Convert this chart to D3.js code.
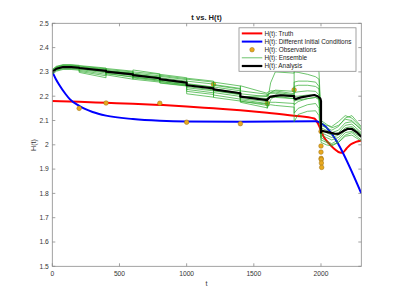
<!DOCTYPE html>
<html><head><meta charset="utf-8">
<script src="https://cdn.jsdelivr.net/npm/d3@7"></script>
<style>body{margin:0;background:#fff}svg{display:block;font-family:"Liberation Sans",Arial,sans-serif}</style>
</head><body><svg id="c" width="399" height="299"></svg>
<script>
const xTicks = [0, 500, 1000, 1500, 2000];
const yTicks = [1.5, 1.6, 1.7, 1.8, 1.9, 2.0, 2.1, 2.2, 2.3, 2.4, 2.5];

const truthT = [0, 200, 400, 600, 800, 1000, 1200, 1400, 1600, 1800, 1950, 1980, 2020, 2060, 2100, 2140, 2160, 2190, 2220, 2260, 2300];
const truthH = [2.180, 2.177, 2.173, 2.169, 2.164, 2.158, 2.150, 2.142, 2.132, 2.120, 2.108, 2.085, 2.033, 2.005, 1.983, 1.968, 1.967, 1.985, 2.001, 2.012, 2.018];

const diffT = [0, 25, 50, 100, 130, 200, 300, 400, 600, 800, 1000, 1400, 1955, 2300];
const diffH = [2.300, 2.272, 2.248, 2.208, 2.188, 2.160, 2.135, 2.120, 2.106, 2.099, 2.096, 2.095, 2.097, 1.800];

const obsT = [200, 400, 800, 1000, 1200, 1400, 1600, 1800, 2000, 2000, 2000, 2001, 2002, 2003, 2005];
const obsH = [2.150, 2.172, 2.171, 2.093, 2.249, 2.087, 2.171, 2.226, 2.055, 1.995, 1.970, 1.944, 1.940, 1.925, 1.907];

const anaT = [0, 30, 80, 140, 200, 200, 400, 400, 600, 600, 800, 800, 1000, 1000, 1200, 1200, 1400, 1400, 1600, 1600, 1620, 1650, 1700, 1800, 1800, 1810, 1850, 1950, 1975, 1995, 2000, 2000, 2005, 2050, 2100, 2130, 2170, 2200, 2230, 2270, 2300];
const anaH = [2.300, 2.313, 2.320, 2.320, 2.317, 2.316, 2.304, 2.301, 2.290, 2.287, 2.274, 2.270, 2.256, 2.245, 2.232, 2.228, 2.212, 2.198, 2.184, 2.186, 2.197, 2.200, 2.204, 2.200, 2.192, 2.188, 2.195, 2.205, 2.200, 2.190, 2.180, 2.050, 2.058, 2.052, 2.046, 2.045, 2.058, 2.066, 2.065, 2.050, 2.033];

// ensemble sample times per assimilation window
const ensWinT = [
  [0, 30, 80, 140, 200], [200, 400], [400, 600], [600, 800], [800, 1000],
  [1000, 1200], [1200, 1400], [1400, 1600], [1600, 1625, 1660, 1800],
  [1800, 1830, 1900, 1960, 1985, 2000], [2000, 2040, 2080, 2130, 2180, 2230, 2300]
];
const ens0 = [[2.290,2.303,2.310,2.310,2.307],[2.298,2.276],[2.303,2.292],[2.280,2.266],[2.290,2.276],[2.228,2.214],[2.258,2.242],[2.180,2.162],[2.150,2.185,2.205,2.198],[2.300,2.298,2.290,2.280,2.270,2.100],[2.090,2.080,2.075,2.095,2.120,2.110,2.070]];
const ens1 = [[2.293,2.306,2.313,2.313,2.310],[2.302,2.284],[2.295,2.278],[2.300,2.290],[2.262,2.247],[2.270,2.258],[2.205,2.188],[2.222,2.208],[2.200,2.215,2.217,2.205],[2.180,2.185,2.190,2.195,2.190,2.060],[2.030,2.015,2.005,2.020,2.050,2.055,2.030]];
const ens2 = [[2.296,2.309,2.316,2.316,2.313],[2.306,2.290],[2.310,2.300],[2.275,2.262],[2.282,2.268],[2.240,2.226],[2.238,2.222],[2.175,2.152],[2.175,2.255,2.300,2.295],[2.342,2.338,2.330,2.322,2.300,2.120],[2.100,2.085,2.070,2.080,2.105,2.100,2.060]];
const ens3 = [[2.298,2.311,2.318,2.318,2.315],[2.310,2.296],[2.288,2.270],[2.295,2.284],[2.256,2.243],[2.262,2.250],[2.215,2.199],[2.243,2.212],[2.215,2.222,2.222,2.210],[2.240,2.245,2.245,2.240,2.230,2.080],[2.050,2.040,2.030,2.040,2.070,2.075,2.045]];
const ens4 = [[2.300,2.313,2.320,2.320,2.317],[2.313,2.300],[2.306,2.296],[2.270,2.258],[2.276,2.262],[2.210,2.196],[2.248,2.232],[2.190,2.178],[2.160,2.165,2.162,2.155],[2.095,2.125,2.138,2.140,2.120,2.040],[2.010,2.000,1.995,2.010,2.040,2.050,2.020]];
const ens5 = [[2.302,2.315,2.322,2.322,2.319],[2.316,2.304],[2.298,2.285],[2.308,2.292],[2.266,2.250],[2.252,2.238],[2.195,2.180],[2.210,2.198],[2.208,2.212,2.212,2.200],[2.165,2.178,2.190,2.195,2.185,2.070],[2.070,2.060,2.050,2.060,2.090,2.095,2.065]];
const ens6 = [[2.304,2.317,2.324,2.324,2.321],[2.319,2.308],[2.314,2.303],[2.284,2.272],[2.260,2.246],[2.235,2.222],[2.230,2.214],[2.185,2.170],[2.170,2.175,2.175,2.170],[2.130,2.150,2.165,2.170,2.150,2.030],[2.040,2.030,2.020,2.030,2.060,2.070,2.040]];
const ens7 = [[2.306,2.319,2.326,2.326,2.323],[2.321,2.311],[2.292,2.280],[2.290,2.279],[2.286,2.272],[2.274,2.262],[2.222,2.206],[2.200,2.190],[2.192,2.200,2.200,2.190],[2.215,2.218,2.222,2.220,2.205,2.090],[2.080,2.070,2.060,2.075,2.110,2.120,2.075]];
const ens8 = [[2.308,2.321,2.328,2.328,2.325],[2.324,2.313],[2.300,2.291],[2.278,2.266],[2.268,2.254],[2.220,2.207],[2.245,2.229],[2.178,2.168],[2.185,2.195,2.195,2.190],[2.200,2.200,2.205,2.205,2.195,2.050],[2.060,2.050,2.040,2.050,2.080,2.085,2.050]];
const ens9 = [[2.310,2.323,2.330,2.330,2.327],[2.326,2.316],[2.304,2.294],[2.290,2.278],[2.254,2.242],[2.249,2.237],[2.224,2.208],[2.197,2.202],[2.205,2.215,2.225,2.220],[2.258,2.262,2.262,2.258,2.240,2.110],[2.020,2.010,2.000,2.010,2.035,2.040,2.015]];
const ensembles = [ens0, ens1, ens2, ens3, ens4, ens5, ens6, ens7, ens8, ens9];

const legendLabels = ["H(t): Truth", "H(t): Different Initial Conditions", "H(t): Observations", "H(t): Ensemble", "H(t): Analysis"];

const svg = d3.select("#c");
const L = 52.3, R = 361.3, T = 23.3, B = 266.3;
const x = d3.scaleLinear().domain([0, 2300]).range([L, R]);
const y = d3.scaleLinear().domain([1.5, 2.5]).range([B, T]);
const axisCol = "#8a8a8a", txtCol = "#333";
const green = "#2eaa2e";

svg.append("rect").attr("x", L).attr("y", T).attr("width", R - L).attr("height", B - T).attr("fill", "#fff");

const clip = svg.append("defs").append("clipPath").attr("id", "pc");
clip.append("rect").attr("x", L).attr("y", T).attr("width", R - L).attr("height", B - T);
const g = svg.append("g").attr("clip-path", "url(#pc)");

const zip = (a, b) => a.map((v, i) => [v, b[i]]);
const smooth = d3.line().x(d => x(d[0])).y(d => y(d[1])).curve(d3.curveMonotoneX);
const lin = d3.line().x(d => x(d[0])).y(d => y(d[1]));

g.append("path").datum(zip(truthT, truthH)).attr("d", smooth).attr("fill", "none").attr("stroke", "#ff0000").attr("stroke-width", 2);
g.append("path").datum(zip(diffT, diffH)).attr("d", smooth).attr("fill", "none").attr("stroke", "#0000ff").attr("stroke-width", 2);

g.selectAll("circle.obs").data(zip(obsT, obsH)).join("circle").attr("class", "obs")
  .attr("cx", d => x(d[0])).attr("cy", d => y(d[1])).attr("r", 2.3)
  .attr("fill", "#e8a91f").attr("stroke", "#9a6e10").attr("stroke-width", 0.5);

ensembles.forEach(m => {
  const pts = [];
  m.forEach((vals, w) => vals.forEach((v, j) => pts.push([ensWinT[w][j], v])));
  g.append("path").datum(pts).attr("d", lin).attr("fill", "none").attr("stroke", green).attr("stroke-width", 0.7);
});

g.append("path").datum(zip(anaT, anaH)).attr("d", lin).attr("fill", "none").attr("stroke", "#000").attr("stroke-width", 2.2).attr("stroke-linejoin", "round");

// axes box
const ax = svg.append("g");
ax.append("rect").attr("x", L).attr("y", T).attr("width", R - L).attr("height", B - T).attr("fill", "none").attr("stroke", axisCol).attr("stroke-width", 0.8);
xTicks.forEach(t => {
  ax.append("line").attr("x1", x(t)).attr("x2", x(t)).attr("y1", B).attr("y2", B - 3).attr("stroke", axisCol).attr("stroke-width", 0.8);
  ax.append("line").attr("x1", x(t)).attr("x2", x(t)).attr("y1", T).attr("y2", T + 3).attr("stroke", axisCol).attr("stroke-width", 0.8);
  ax.append("text").attr("x", x(t)).attr("y", B + 9.5).attr("text-anchor", "middle").attr("font-size", 6.7).attr("fill", txtCol).text(t);
});
yTicks.forEach(v => {
  ax.append("line").attr("x1", L).attr("x2", L + 3).attr("y1", y(v)).attr("y2", y(v)).attr("stroke", axisCol).attr("stroke-width", 0.8);
  ax.append("line").attr("x1", R).attr("x2", R - 3).attr("y1", y(v)).attr("y2", y(v)).attr("stroke", axisCol).attr("stroke-width", 0.8);
  ax.append("text").attr("x", L - 3.5).attr("y", y(v) + 2.3).attr("text-anchor", "end").attr("font-size", 6.7).attr("fill", txtCol).text(d3.format("")(+v.toFixed(1)));
});

svg.append("text").attr("x", 206.5).attr("y", 20).attr("text-anchor", "middle").attr("font-size", 7.6).attr("font-weight", "bold").attr("fill", "#222").text("t vs. H(t)");
svg.append("text").attr("x", 206.5).attr("y", 285.5).attr("text-anchor", "middle").attr("font-size", 7.2).attr("fill", txtCol).text("t");
svg.append("text").attr("transform", "translate(35.5,145) rotate(-90)").attr("text-anchor", "middle").attr("font-size", 7.2).attr("fill", txtCol).text("H(t)");

// legend
const lg = svg.append("g");
lg.append("rect").attr("x", 239).attr("y", 27.8).attr("width", 117).attr("height", 43.5).attr("fill", "#fff").attr("stroke", axisCol).attr("stroke-width", 0.8);
const ly = [33.4, 41.6, 49.7, 57.8, 66.0];
const lx1 = 241.8, lx2 = 262.3;
lg.append("line").attr("x1", lx1).attr("x2", lx2).attr("y1", ly[0]).attr("y2", ly[0]).attr("stroke", "#ff0000").attr("stroke-width", 2);
lg.append("line").attr("x1", lx1).attr("x2", lx2).attr("y1", ly[1]).attr("y2", ly[1]).attr("stroke", "#0000ff").attr("stroke-width", 2);
lg.append("circle").attr("cx", (lx1 + lx2) / 2).attr("cy", ly[2]).attr("r", 2.3).attr("fill", "#e8a91f").attr("stroke", "#9a6e10").attr("stroke-width", 0.5);
lg.append("line").attr("x1", lx1).attr("x2", lx2).attr("y1", ly[3]).attr("y2", ly[3]).attr("stroke", green).attr("stroke-width", 0.7);
lg.append("line").attr("x1", lx1).attr("x2", lx2).attr("y1", ly[4]).attr("y2", ly[4]).attr("stroke", "#000").attr("stroke-width", 2.2);
legendLabels.forEach((s, i) => {
  lg.append("text").attr("x", 264.5).attr("y", ly[i] + 2.2).attr("font-size", 6.4).attr("fill", "#222").text(s);
});
</script></body></html>
